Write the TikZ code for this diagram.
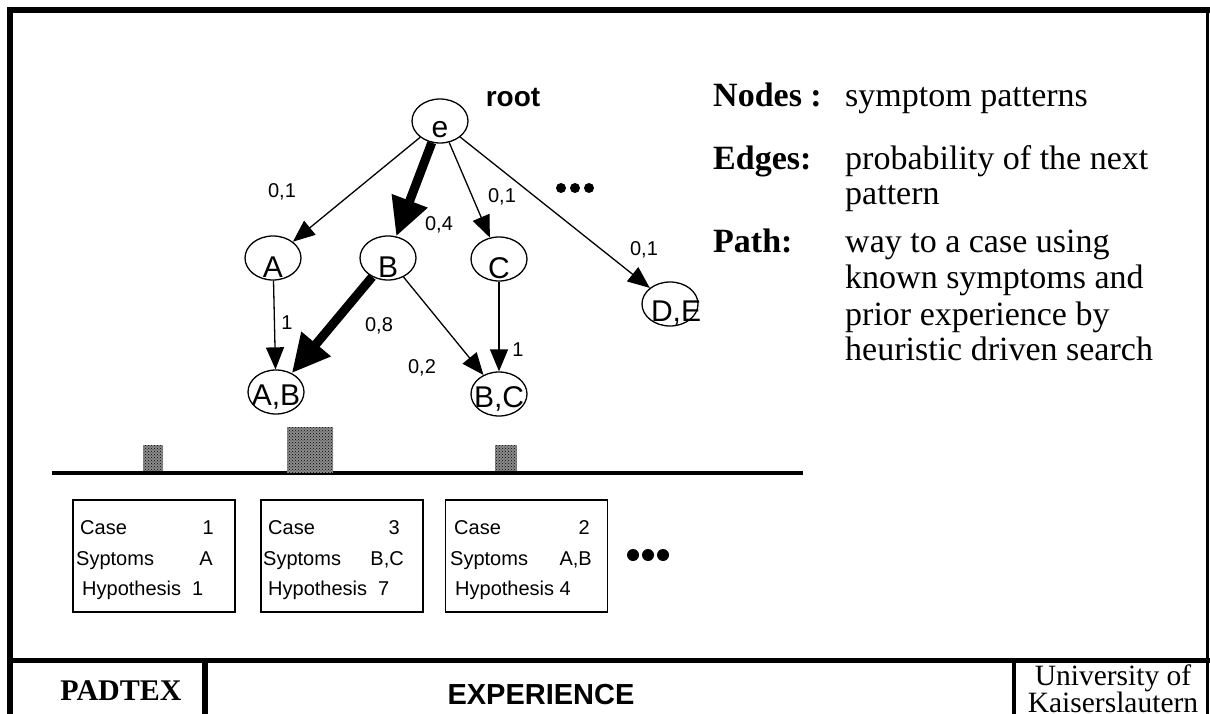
\documentclass[tikz,border=0pt]{standalone}
\usepackage{fontspec}
\setmainfont{Liberation Serif}
\newfontfamily\arial{Liberation Sans}
\usetikzlibrary{shapes.geometric,arrows.meta,patterns}
\tikzset{
  pat/.style={ellipse, draw, line width=1.3pt, minimum width=56pt, minimum height=44pt, inner sep=0pt},
  lbl/.style={font=\arial\fontsize{30}{30}\selectfont, inner sep=0pt, yshift=-9pt},
  thin/.style={line width=1.3pt, -{Triangle[length=22pt,width=18pt]}},
  thick/.style={line width=9pt, -{Triangle[length=38pt,width=36pt]}},
  prob/.style={font=\arial\fontsize{20}{20}\selectfont, inner sep=0pt},
  casebox/.style={draw, line width=1.3pt, minimum width=162pt, minimum height=112pt, inner sep=0pt},
  ctext/.style={font=\arial\fontsize{20}{20}\selectfont, inner sep=0pt},
  rlabel/.style={font=\bfseries\fontsize{34}{34}\selectfont, inner sep=0pt, anchor=base west},
  rtext/.style={font=\fontsize{34}{34}\selectfont, inner sep=0pt, anchor=base west},
  dots/.style={fill=black},
}
\begin{document}
\begin{tikzpicture}[x=1pt,y=-1pt]
\useasboundingbox (0,0) rectangle (1210,714);
\clip (0,0) rectangle (1210,714);
% frame
\fill (7,7) rectangle (1210,13);
\fill (7,7) rectangle (13,714);
\fill (1206,7) rectangle (1208.5,714);
% footer
\fill (7,658) rectangle (1210,663);
\fill (202,660) rectangle (208,714);
\fill (1012,660) rectangle (1016,714);
\node[font=\bfseries\fontsize{30}{30}\selectfont, anchor=base, inner sep=0pt] (padtex) at (121,700) {PADTEX};
\node[font=\arial\bfseries\fontsize{29}{29}\selectfont, anchor=base, inner sep=0pt] (exp) at (541,704) {EXPERIENCE};
\node[font=\fontsize{29.5}{29.5}\selectfont, anchor=base, inner sep=0pt] (uni1) at (1113,685) {University of};
\node[font=\fontsize{29.5}{29.5}\selectfont, anchor=base, inner sep=0pt] (uni2) at (1113,712) {Kaiserslautern};

% tree
\node[font=\arial\bfseries\fontsize{28}{28}\selectfont, inner sep=0pt, anchor=base] (root) at (513,107) {root};
\node[pat, label={[lbl]center:e}] (e) at (440,121) {};
\node[pat, label={[lbl]center:A}] (A) at (273,258) {};
\node[pat, label={[lbl]center:B}] (B) at (388,258) {};
\node[pat, label={[lbl]center:C}] (C) at (499,259) {};
\node[pat, label={[lbl,xshift=6pt]center:D,E}] (DE) at (670,304) {};
\node[pat, label={[lbl,yshift=4pt]center:A,B}] (AB) at (276,392) {};
\node[pat, label={[lbl,yshift=4pt]center:B,C}] (BC) at (499,394) {};

\draw[thin] (e) -- (A);
\draw[thick] (e) -- (B);
\draw[thin] (e) -- (C);
\draw[thin] (e) -- (DE);
\draw[thin] (A) -- (AB);
\draw[thick] (B) -- (AB);
\draw[thin] (B) -- (BC);
\draw[thin] (C) -- (BC);

\node[prob] (p1) at (282,192) {0,1};
\node[prob] (p2) at (439,225) {0,4};
\node[prob] (p3) at (502,197) {0,1};
\node[prob] (p4) at (644,250) {0,1};
\node[prob] (p5) at (287,323) {1};
\node[prob] (p6) at (379,326) {0,8};
\node[prob] (p7) at (422,368) {0,2};
\node[prob] (p8) at (518,350) {1};

\fill[dots] (561,188) circle (5) (575,188) circle (5) (589,188) circle (5);

% baseline and frequency bars
\fill (52,471) rectangle (803,475);
\foreach \a/\b/\c/\d in {143/445/163/471, 287/427/333/473, 495/445/517/471}{
  \fill[black!45] (\a,\b) rectangle (\c,\d);
  \fill[pattern=crosshatch dots] (\a,\b) rectangle (\c,\d);
}

% case boxes
\node[casebox] (c1) at (154,556) {};
\node[casebox] (c2) at (342,556) {};
\node[casebox] (c3) at (526.5,556) {};
\node[ctext, anchor=base west] (c1a) at (80,534) {Case};
\node[ctext, anchor=base east] (c1b) at (214,534) {1};
\node[ctext, anchor=base west] (c1c) at (76,565) {Syptoms};
\node[ctext, anchor=base east] (c1d) at (213,565) {A};
\node[ctext, anchor=base west] (c1e) at (82,595) {Hypothesis\ \ 1};
\node[ctext, anchor=base west] (c2a) at (268,534) {Case};
\node[ctext, anchor=base east] (c2b) at (400,534) {3};
\node[ctext, anchor=base west] (c2c) at (263,565) {Syptoms};
\node[ctext, anchor=base east] (c2d) at (404,565) {B,C};
\node[ctext, anchor=base west] (c2e) at (268,595) {Hypothesis\ \ 7};
\node[ctext, anchor=base west] (c3a) at (454,534) {Case};
\node[ctext, anchor=base east] (c3b) at (590,534) {2};
\node[ctext, anchor=base west] (c3c) at (450,565) {Syptoms};
\node[ctext, anchor=base east] (c3d) at (592,565) {A,B};
\node[ctext, anchor=base west] (c3e) at (455,595) {Hypothesis 4};
\fill[dots] (633,555) circle (6) (648,555) circle (6) (663,555) circle (6);

% legend text
\node[rlabel] (l1) at (713,107) {Nodes :};
\node[rtext] (t1) at (845,107) {symptom patterns};
\node[rlabel] (l2) at (713,170) {Edges:};
\node[rtext] (t2) at (845,170) {probability of the next};
\node[rtext] (t3) at (845,205) {pattern};
\node[rlabel] (l3) at (713,252) {Path:};
\node[rtext] (t4) at (845,252) {way to a case using};
\node[rtext] (t5) at (845,288) {known symptoms and};
\node[rtext] (t6) at (845,325) {prior experience by};
\node[rtext] (t7) at (845,360) {heuristic driven search};
\end{tikzpicture}
\end{document}
